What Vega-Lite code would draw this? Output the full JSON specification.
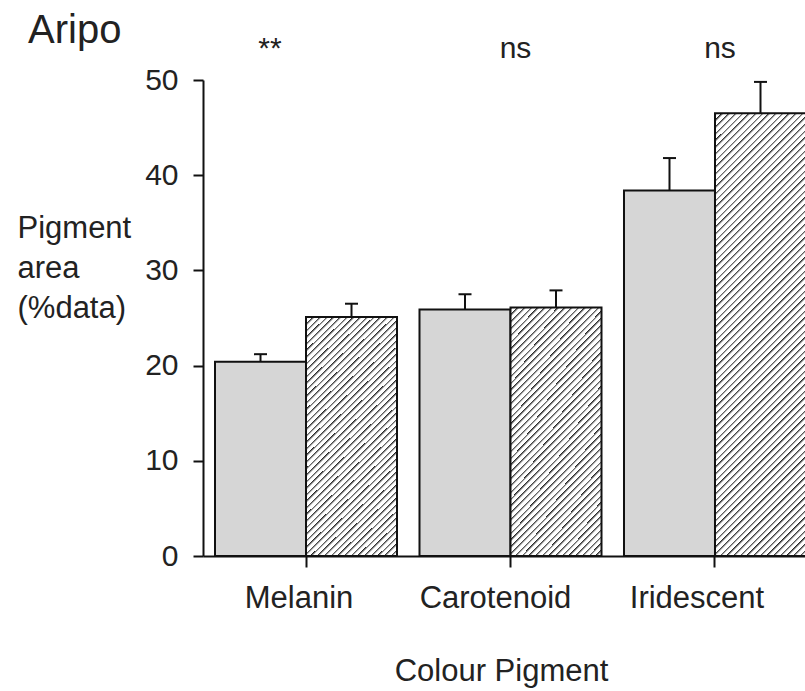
{
  "$schema": "https://vega.github.io/schema/vega-lite/v6.json",
  "width": 602,
  "height": 476,
  "autosize": "none",
  "padding": {"left": 203, "top": 80, "right": 0, "bottom": 135},
  "background": "white",
  "config": {
    "view": {"stroke": null},
    "font": "Liberation Sans",
    "axis": {"grid": false, "domainColor": "#111", "domainWidth": 2, "tickColor": "#111", "tickWidth": 2, "labelColor": "#222", "titleColor": "#222", "labelFont": "Liberation Sans", "titleFont": "Liberation Sans", "titleFontWeight": "normal"}
  },
  "title": {"text": "Aripo", "anchor": "start", "frame": "group", "fontSize": 40, "font": "Liberation Sans", "fontWeight": "normal", "color": "#222", "dx": -175, "offset": -49, "baseline": "alphabetic"},
  "data": {"values": [
    {"pigment": "Melanin", "group": "A", "mean": 20.4, "upper": 21.2},
    {"pigment": "Melanin", "group": "B", "mean": 25.1, "upper": 26.5},
    {"pigment": "Carotenoid", "group": "A", "mean": 25.9, "upper": 27.5},
    {"pigment": "Carotenoid", "group": "B", "mean": 26.1, "upper": 27.9},
    {"pigment": "Iridescent", "group": "A", "mean": 38.4, "upper": 41.8},
    {"pigment": "Iridescent", "group": "B", "mean": 46.5, "upper": 49.8}
  ]},
  "layer": [
    {
      "mark": {"type": "bar", "stroke": "#111", "strokeWidth": 2},
      "encoding": {
        "x": {"field": "pigment", "type": "nominal", "sort": ["Melanin", "Carotenoid", "Iridescent"],
          "scale": {"range": [0, 615], "paddingInner": 0.11, "paddingOuter": 0.0587},
          "axis": {"orient": "bottom", "title": "Colour Pigment", "titleFontSize": 31, "titleX": 298, "titleY": 124, "titleBaseline": "alphabetic", "titleAlign": "center", "titleAnchor": null,
            "labelFontSize": 31, "labelAngle": 0, "labelBaseline": "alphabetic", "labelPadding": 40, "tickSize": 11,
            "labelOffset": {"condition": [{"test": "datum.value === 'Melanin'", "value": -7}, {"test": "datum.value === 'Carotenoid'", "value": -15}], "value": -18}}},
        "xOffset": {"field": "group", "type": "nominal", "scale": {"paddingInner": 0, "paddingOuter": 0}},
        "y": {"field": "mean", "type": "quantitative", "scale": {"domain": [0, 50], "nice": false, "zero": true},
          "axis": {"values": [0, 10, 20, 30, 40, 50], "tickSize": 10, "labelFontSize": 30, "labelPadding": 15,
            "title": ["Pigment", "area", "(%data)"], "titleAngle": 0, "titleAlign": "left", "titleBaseline": "alphabetic", "titleX": -186, "titleY": 157, "titleFontSize": 31, "titleLineHeight": 40}},
        "fill": {
          "condition": [
            {"test": "datum.group === 'B' && datum.pigment === 'Iridescent'", "value": {"gradient": "linear", "x1": 0, "y1": 0, "x2": 0.2376, "y2": 1.1566, "stops": [
{"offset":0,"color":"#222"},{"offset":0.0055,"color":"#fff"},
{"offset":0.0125,"color":"#fff"},{"offset":0.0125,"color":"#222"},{"offset":0.018,"color":"#fff"},
{"offset":0.025,"color":"#fff"},{"offset":0.025,"color":"#222"},{"offset":0.0305,"color":"#fff"},
{"offset":0.0375,"color":"#fff"},{"offset":0.0375,"color":"#222"},{"offset":0.043,"color":"#fff"},
{"offset":0.05,"color":"#fff"},{"offset":0.05,"color":"#222"},{"offset":0.0555,"color":"#fff"},
{"offset":0.0625,"color":"#fff"},{"offset":0.0625,"color":"#222"},{"offset":0.068,"color":"#fff"},
{"offset":0.075,"color":"#fff"},{"offset":0.075,"color":"#222"},{"offset":0.0805,"color":"#fff"},
{"offset":0.0875,"color":"#fff"},{"offset":0.0875,"color":"#222"},{"offset":0.093,"color":"#fff"},
{"offset":0.1,"color":"#fff"},{"offset":0.1,"color":"#222"},{"offset":0.1055,"color":"#fff"},
{"offset":0.1125,"color":"#fff"},{"offset":0.1125,"color":"#222"},{"offset":0.118,"color":"#fff"},
{"offset":0.125,"color":"#fff"},{"offset":0.125,"color":"#222"},{"offset":0.1305,"color":"#fff"},
{"offset":0.1375,"color":"#fff"},{"offset":0.1375,"color":"#222"},{"offset":0.143,"color":"#fff"},
{"offset":0.15,"color":"#fff"},{"offset":0.15,"color":"#222"},{"offset":0.1555,"color":"#fff"},
{"offset":0.1625,"color":"#fff"},{"offset":0.1625,"color":"#222"},{"offset":0.168,"color":"#fff"},
{"offset":0.175,"color":"#fff"},{"offset":0.175,"color":"#222"},{"offset":0.1805,"color":"#fff"},
{"offset":0.1875,"color":"#fff"},{"offset":0.1875,"color":"#222"},{"offset":0.193,"color":"#fff"},
{"offset":0.2,"color":"#fff"},{"offset":0.2,"color":"#222"},{"offset":0.2055,"color":"#fff"},
{"offset":0.2125,"color":"#fff"},{"offset":0.2125,"color":"#222"},{"offset":0.218,"color":"#fff"},
{"offset":0.225,"color":"#fff"},{"offset":0.225,"color":"#222"},{"offset":0.2305,"color":"#fff"},
{"offset":0.2375,"color":"#fff"},{"offset":0.2375,"color":"#222"},{"offset":0.243,"color":"#fff"},
{"offset":0.25,"color":"#fff"},{"offset":0.25,"color":"#222"},{"offset":0.2555,"color":"#fff"},
{"offset":0.2625,"color":"#fff"},{"offset":0.2625,"color":"#222"},{"offset":0.268,"color":"#fff"},
{"offset":0.275,"color":"#fff"},{"offset":0.275,"color":"#222"},{"offset":0.2805,"color":"#fff"},
{"offset":0.2875,"color":"#fff"},{"offset":0.2875,"color":"#222"},{"offset":0.293,"color":"#fff"},
{"offset":0.3,"color":"#fff"},{"offset":0.3,"color":"#222"},{"offset":0.3055,"color":"#fff"},
{"offset":0.3125,"color":"#fff"},{"offset":0.3125,"color":"#222"},{"offset":0.318,"color":"#fff"},
{"offset":0.325,"color":"#fff"},{"offset":0.325,"color":"#222"},{"offset":0.3305,"color":"#fff"},
{"offset":0.3375,"color":"#fff"},{"offset":0.3375,"color":"#222"},{"offset":0.343,"color":"#fff"},
{"offset":0.35,"color":"#fff"},{"offset":0.35,"color":"#222"},{"offset":0.3555,"color":"#fff"},
{"offset":0.3625,"color":"#fff"},{"offset":0.3625,"color":"#222"},{"offset":0.368,"color":"#fff"},
{"offset":0.375,"color":"#fff"},{"offset":0.375,"color":"#222"},{"offset":0.3805,"color":"#fff"},
{"offset":0.3875,"color":"#fff"},{"offset":0.3875,"color":"#222"},{"offset":0.393,"color":"#fff"},
{"offset":0.4,"color":"#fff"},{"offset":0.4,"color":"#222"},{"offset":0.4055,"color":"#fff"},
{"offset":0.4125,"color":"#fff"},{"offset":0.4125,"color":"#222"},{"offset":0.418,"color":"#fff"},
{"offset":0.425,"color":"#fff"},{"offset":0.425,"color":"#222"},{"offset":0.4305,"color":"#fff"},
{"offset":0.4375,"color":"#fff"},{"offset":0.4375,"color":"#222"},{"offset":0.443,"color":"#fff"},
{"offset":0.45,"color":"#fff"},{"offset":0.45,"color":"#222"},{"offset":0.4555,"color":"#fff"},
{"offset":0.4625,"color":"#fff"},{"offset":0.4625,"color":"#222"},{"offset":0.468,"color":"#fff"},
{"offset":0.475,"color":"#fff"},{"offset":0.475,"color":"#222"},{"offset":0.4805,"color":"#fff"},
{"offset":0.4875,"color":"#fff"},{"offset":0.4875,"color":"#222"},{"offset":0.493,"color":"#fff"},
{"offset":0.5,"color":"#fff"},{"offset":0.5,"color":"#222"},{"offset":0.5055,"color":"#fff"},
{"offset":0.5125,"color":"#fff"},{"offset":0.5125,"color":"#222"},{"offset":0.518,"color":"#fff"},
{"offset":0.525,"color":"#fff"},{"offset":0.525,"color":"#222"},{"offset":0.5305,"color":"#fff"},
{"offset":0.5375,"color":"#fff"},{"offset":0.5375,"color":"#222"},{"offset":0.543,"color":"#fff"},
{"offset":0.55,"color":"#fff"},{"offset":0.55,"color":"#222"},{"offset":0.5555,"color":"#fff"},
{"offset":0.5625,"color":"#fff"},{"offset":0.5625,"color":"#222"},{"offset":0.568,"color":"#fff"},
{"offset":0.575,"color":"#fff"},{"offset":0.575,"color":"#222"},{"offset":0.5805,"color":"#fff"},
{"offset":0.5875,"color":"#fff"},{"offset":0.5875,"color":"#222"},{"offset":0.593,"color":"#fff"},
{"offset":0.6,"color":"#fff"},{"offset":0.6,"color":"#222"},{"offset":0.6055,"color":"#fff"},
{"offset":0.6125,"color":"#fff"},{"offset":0.6125,"color":"#222"},{"offset":0.618,"color":"#fff"},
{"offset":0.625,"color":"#fff"},{"offset":0.625,"color":"#222"},{"offset":0.6305,"color":"#fff"},
{"offset":0.6375,"color":"#fff"},{"offset":0.6375,"color":"#222"},{"offset":0.643,"color":"#fff"},
{"offset":0.65,"color":"#fff"},{"offset":0.65,"color":"#222"},{"offset":0.6555,"color":"#fff"},
{"offset":0.6625,"color":"#fff"},{"offset":0.6625,"color":"#222"},{"offset":0.668,"color":"#fff"},
{"offset":0.675,"color":"#fff"},{"offset":0.675,"color":"#222"},{"offset":0.6805,"color":"#fff"},
{"offset":0.6875,"color":"#fff"},{"offset":0.6875,"color":"#222"},{"offset":0.693,"color":"#fff"},
{"offset":0.7,"color":"#fff"},{"offset":0.7,"color":"#222"},{"offset":0.7055,"color":"#fff"},
{"offset":0.7125,"color":"#fff"},{"offset":0.7125,"color":"#222"},{"offset":0.718,"color":"#fff"},
{"offset":0.725,"color":"#fff"},{"offset":0.725,"color":"#222"},{"offset":0.7305,"color":"#fff"},
{"offset":0.7375,"color":"#fff"},{"offset":0.7375,"color":"#222"},{"offset":0.743,"color":"#fff"},
{"offset":0.75,"color":"#fff"},{"offset":0.75,"color":"#222"},{"offset":0.7555,"color":"#fff"},
{"offset":0.7625,"color":"#fff"},{"offset":0.7625,"color":"#222"},{"offset":0.768,"color":"#fff"},
{"offset":0.775,"color":"#fff"},{"offset":0.775,"color":"#222"},{"offset":0.7805,"color":"#fff"},
{"offset":0.7875,"color":"#fff"},{"offset":0.7875,"color":"#222"},{"offset":0.793,"color":"#fff"},
{"offset":0.8,"color":"#fff"},{"offset":0.8,"color":"#222"},{"offset":0.8055,"color":"#fff"},
{"offset":0.8125,"color":"#fff"},{"offset":0.8125,"color":"#222"},{"offset":0.818,"color":"#fff"},
{"offset":0.825,"color":"#fff"},{"offset":0.825,"color":"#222"},{"offset":0.8305,"color":"#fff"},
{"offset":0.8375,"color":"#fff"},{"offset":0.8375,"color":"#222"},{"offset":0.843,"color":"#fff"},
{"offset":0.85,"color":"#fff"},{"offset":0.85,"color":"#222"},{"offset":0.8555,"color":"#fff"},
{"offset":0.8625,"color":"#fff"},{"offset":0.8625,"color":"#222"},{"offset":0.868,"color":"#fff"},
{"offset":0.875,"color":"#fff"},{"offset":0.875,"color":"#222"},{"offset":0.8805,"color":"#fff"},
{"offset":0.8875,"color":"#fff"},{"offset":0.8875,"color":"#222"},{"offset":0.893,"color":"#fff"},
{"offset":0.9,"color":"#fff"},{"offset":0.9,"color":"#222"},{"offset":0.9055,"color":"#fff"},
{"offset":0.9125,"color":"#fff"},{"offset":0.9125,"color":"#222"},{"offset":0.918,"color":"#fff"},
{"offset":0.925,"color":"#fff"},{"offset":0.925,"color":"#222"},{"offset":0.9305,"color":"#fff"},
{"offset":0.9375,"color":"#fff"},{"offset":0.9375,"color":"#222"},{"offset":0.943,"color":"#fff"},
{"offset":0.95,"color":"#fff"},{"offset":0.95,"color":"#222"},{"offset":0.9555,"color":"#fff"},
{"offset":0.9625,"color":"#fff"},{"offset":0.9625,"color":"#222"},{"offset":0.968,"color":"#fff"},
{"offset":0.975,"color":"#fff"},{"offset":0.975,"color":"#222"},{"offset":0.9805,"color":"#fff"},
{"offset":0.9875,"color":"#fff"},{"offset":0.9875,"color":"#222"},{"offset":0.993,"color":"#fff"},
{"offset":1,"color":"#fff"}
            ]}},
            {"test": "datum.group === 'B'", "value": {"gradient": "linear", "x1": 0, "y1": 0, "x2": 0.4495, "y2": 1.2053, "stops": [
{"offset":0,"color":"#222"},{"offset":0.009,"color":"#fff"},
{"offset":0.02,"color":"#fff"},{"offset":0.02,"color":"#222"},{"offset":0.029,"color":"#fff"},
{"offset":0.04,"color":"#fff"},{"offset":0.04,"color":"#222"},{"offset":0.049,"color":"#fff"},
{"offset":0.06,"color":"#fff"},{"offset":0.06,"color":"#222"},{"offset":0.069,"color":"#fff"},
{"offset":0.08,"color":"#fff"},{"offset":0.08,"color":"#222"},{"offset":0.089,"color":"#fff"},
{"offset":0.1,"color":"#fff"},{"offset":0.1,"color":"#222"},{"offset":0.109,"color":"#fff"},
{"offset":0.12,"color":"#fff"},{"offset":0.12,"color":"#222"},{"offset":0.129,"color":"#fff"},
{"offset":0.14,"color":"#fff"},{"offset":0.14,"color":"#222"},{"offset":0.149,"color":"#fff"},
{"offset":0.16,"color":"#fff"},{"offset":0.16,"color":"#222"},{"offset":0.169,"color":"#fff"},
{"offset":0.18,"color":"#fff"},{"offset":0.18,"color":"#222"},{"offset":0.189,"color":"#fff"},
{"offset":0.2,"color":"#fff"},{"offset":0.2,"color":"#222"},{"offset":0.209,"color":"#fff"},
{"offset":0.22,"color":"#fff"},{"offset":0.22,"color":"#222"},{"offset":0.229,"color":"#fff"},
{"offset":0.24,"color":"#fff"},{"offset":0.24,"color":"#222"},{"offset":0.249,"color":"#fff"},
{"offset":0.26,"color":"#fff"},{"offset":0.26,"color":"#222"},{"offset":0.269,"color":"#fff"},
{"offset":0.28,"color":"#fff"},{"offset":0.28,"color":"#222"},{"offset":0.289,"color":"#fff"},
{"offset":0.3,"color":"#fff"},{"offset":0.3,"color":"#222"},{"offset":0.309,"color":"#fff"},
{"offset":0.32,"color":"#fff"},{"offset":0.32,"color":"#222"},{"offset":0.329,"color":"#fff"},
{"offset":0.34,"color":"#fff"},{"offset":0.34,"color":"#222"},{"offset":0.349,"color":"#fff"},
{"offset":0.36,"color":"#fff"},{"offset":0.36,"color":"#222"},{"offset":0.369,"color":"#fff"},
{"offset":0.38,"color":"#fff"},{"offset":0.38,"color":"#222"},{"offset":0.389,"color":"#fff"},
{"offset":0.4,"color":"#fff"},{"offset":0.4,"color":"#222"},{"offset":0.409,"color":"#fff"},
{"offset":0.42,"color":"#fff"},{"offset":0.42,"color":"#222"},{"offset":0.429,"color":"#fff"},
{"offset":0.44,"color":"#fff"},{"offset":0.44,"color":"#222"},{"offset":0.449,"color":"#fff"},
{"offset":0.46,"color":"#fff"},{"offset":0.46,"color":"#222"},{"offset":0.469,"color":"#fff"},
{"offset":0.48,"color":"#fff"},{"offset":0.48,"color":"#222"},{"offset":0.489,"color":"#fff"},
{"offset":0.5,"color":"#fff"},{"offset":0.5,"color":"#222"},{"offset":0.509,"color":"#fff"},
{"offset":0.52,"color":"#fff"},{"offset":0.52,"color":"#222"},{"offset":0.529,"color":"#fff"},
{"offset":0.54,"color":"#fff"},{"offset":0.54,"color":"#222"},{"offset":0.549,"color":"#fff"},
{"offset":0.56,"color":"#fff"},{"offset":0.56,"color":"#222"},{"offset":0.569,"color":"#fff"},
{"offset":0.58,"color":"#fff"},{"offset":0.58,"color":"#222"},{"offset":0.589,"color":"#fff"},
{"offset":0.6,"color":"#fff"},{"offset":0.6,"color":"#222"},{"offset":0.609,"color":"#fff"},
{"offset":0.62,"color":"#fff"},{"offset":0.62,"color":"#222"},{"offset":0.629,"color":"#fff"},
{"offset":0.64,"color":"#fff"},{"offset":0.64,"color":"#222"},{"offset":0.649,"color":"#fff"},
{"offset":0.66,"color":"#fff"},{"offset":0.66,"color":"#222"},{"offset":0.669,"color":"#fff"},
{"offset":0.68,"color":"#fff"},{"offset":0.68,"color":"#222"},{"offset":0.689,"color":"#fff"},
{"offset":0.7,"color":"#fff"},{"offset":0.7,"color":"#222"},{"offset":0.709,"color":"#fff"},
{"offset":0.72,"color":"#fff"},{"offset":0.72,"color":"#222"},{"offset":0.729,"color":"#fff"},
{"offset":0.74,"color":"#fff"},{"offset":0.74,"color":"#222"},{"offset":0.749,"color":"#fff"},
{"offset":0.76,"color":"#fff"},{"offset":0.76,"color":"#222"},{"offset":0.769,"color":"#fff"},
{"offset":0.78,"color":"#fff"},{"offset":0.78,"color":"#222"},{"offset":0.789,"color":"#fff"},
{"offset":0.8,"color":"#fff"},{"offset":0.8,"color":"#222"},{"offset":0.809,"color":"#fff"},
{"offset":0.82,"color":"#fff"},{"offset":0.82,"color":"#222"},{"offset":0.829,"color":"#fff"},
{"offset":0.84,"color":"#fff"},{"offset":0.84,"color":"#222"},{"offset":0.849,"color":"#fff"},
{"offset":0.86,"color":"#fff"},{"offset":0.86,"color":"#222"},{"offset":0.869,"color":"#fff"},
{"offset":0.88,"color":"#fff"},{"offset":0.88,"color":"#222"},{"offset":0.889,"color":"#fff"},
{"offset":0.9,"color":"#fff"},{"offset":0.9,"color":"#222"},{"offset":0.909,"color":"#fff"},
{"offset":0.92,"color":"#fff"},{"offset":0.92,"color":"#222"},{"offset":0.929,"color":"#fff"},
{"offset":0.94,"color":"#fff"},{"offset":0.94,"color":"#222"},{"offset":0.949,"color":"#fff"},
{"offset":0.96,"color":"#fff"},{"offset":0.96,"color":"#222"},{"offset":0.969,"color":"#fff"},
{"offset":0.98,"color":"#fff"},{"offset":0.98,"color":"#222"},{"offset":0.989,"color":"#fff"},
{"offset":1,"color":"#fff"}
            ]}}
          ],
          "value": "#d6d6d6"
        }
      }
    },
    {
      "mark": {"type": "rule", "stroke": "#111", "strokeWidth": 2},
      "encoding": {
        "x": {"field": "pigment", "type": "nominal", "sort": ["Melanin", "Carotenoid", "Iridescent"]},
        "xOffset": {"field": "group", "type": "nominal"},
        "y": {"field": "mean", "type": "quantitative"},
        "y2": {"field": "upper"}
      }
    },
    {
      "mark": {"type": "tick", "color": "#111", "size": 13, "thickness": 2, "orient": "horizontal", "opacity": 1},
      "encoding": {
        "x": {"field": "pigment", "type": "nominal", "sort": ["Melanin", "Carotenoid", "Iridescent"]},
        "xOffset": {"field": "group", "type": "nominal"},
        "y": {"field": "upper", "type": "quantitative"}
      }
    },
    {
      "data": {"values": [
        {"pigment": "Melanin", "sig": "**"},
        {"pigment": "Carotenoid", "sig": "ns"},
        {"pigment": "Iridescent", "sig": "ns"}
      ]},
      "transform": [{"filter": "datum.sig === '**'"}],
      "mark": {"type": "text", "fontSize": 30, "color": "#222", "baseline": "alphabetic", "align": "center", "dx": -36},
      "encoding": {
        "x": {"field": "pigment", "type": "nominal", "sort": ["Melanin", "Carotenoid", "Iridescent"]},
        "y": {"datum": 52.3, "type": "quantitative"},
        "text": {"field": "sig", "type": "nominal"}
      }
    },
    {
      "data": {"values": [
        {"pigment": "Melanin", "sig": "**"},
        {"pigment": "Carotenoid", "sig": "ns"},
        {"pigment": "Iridescent", "sig": "ns"}
      ]},
      "transform": [{"filter": "datum.sig === 'ns'"}],
      "mark": {"type": "text", "fontSize": 30, "color": "#222", "baseline": "alphabetic", "align": "center", "dx": 5},
      "encoding": {
        "x": {"field": "pigment", "type": "nominal", "sort": ["Melanin", "Carotenoid", "Iridescent"]},
        "y": {"datum": 52.3, "type": "quantitative"},
        "text": {"field": "sig", "type": "nominal"}
      }
    }
  ]
}
